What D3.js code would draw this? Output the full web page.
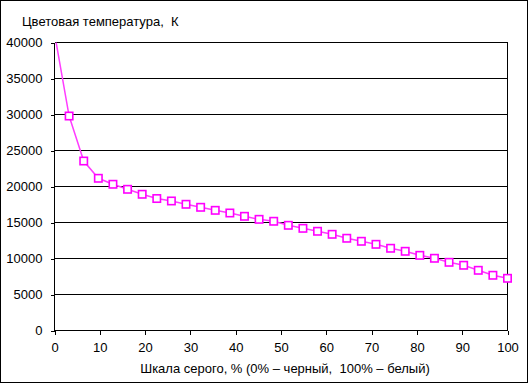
<!DOCTYPE html>
<html>
<head>
<meta charset="utf-8">
<script src="https://cdn.jsdelivr.net/npm/d3@7"></script>
<style>
  html, body { margin: 0; padding: 0; background: #fff; }
  svg { display: block; font-family: "Liberation Sans", Arial, sans-serif; }
</style>
</head>
<body>
<svg id="chart" width="528" height="383"></svg>
<script>
// Gray level (% , 0 = black, 100 = white), 32 steps
const grayLevels = d3.range(32).map(i => i * 100 / 31);
// Colour temperature, K
const colorTemp = [41300, 29790, 23540, 21140, 20310, 19610, 18920, 18330,
  17990, 17530, 17110, 16690, 16320, 15860, 15440, 15170,
  14610, 14190, 13780, 13360, 12810, 12390, 11970, 11420,
  11000, 10440, 10030, 9470, 9060, 8360, 7670, 7250];
const yTicks = [0, 5000, 10000, 15000, 20000, 25000, 30000, 35000, 40000];
const xTicks = [0, 10, 20, 30, 40, 50, 60, 70, 80, 90, 100];
const titleY = "Цветовая температура,  К";
const titleX = "Шкала серого, % (0% – черный,  100% – белый)";

const svg = d3.select("#chart");
const W = 528, H = 383;
const pLeft = 54.5, pRight = 507.5, pTop = 42.5, pBottom = 330.5;

svg.append("rect").attr("x", 0.5).attr("y", 0.5).attr("width", W - 1).attr("height", H - 1)
  .attr("fill", "#fff").attr("stroke", "#000").attr("stroke-width", 1);

const x = d3.scaleLinear().domain([0, 100]).range([pLeft, pRight]);
const y = d3.scaleLinear().domain([0, 40000]).range([pBottom, pTop]);

// gridlines
svg.append("g").selectAll("line").data(yTicks.filter(d => d > 0)).join("line")
  .attr("x1", pLeft).attr("x2", pRight)
  .attr("y1", d => y(d)).attr("y2", d => y(d))
  .attr("stroke", "#000").attr("stroke-width", 1).attr("shape-rendering", "crispEdges");

// right border of plot
svg.append("line").attr("x1", pRight).attr("x2", pRight).attr("y1", pTop).attr("y2", pBottom)
  .attr("stroke", "#000").attr("shape-rendering", "crispEdges");

// axes
const yAxis = d3.axisLeft(y).tickValues(yTicks).tickSize(4).tickPadding(8).tickFormat(d3.format("d"));
const gy = svg.append("g").attr("transform", `translate(${pLeft},0)`).call(yAxis);
const xAxis = d3.axisBottom(x).tickValues(xTicks).tickSize(4).tickPadding(8).tickFormat(d3.format("d"));
const gx = svg.append("g").attr("transform", `translate(0,${pBottom})`).call(xAxis);
[gy, gx].forEach(g => {
  g.select(".domain").attr("d", null);
  g.selectAll(".tick line").attr("stroke", "#000").attr("shape-rendering", "crispEdges");
  g.selectAll(".tick text").attr("fill", "#000").style("font-size", "13px")
    .style("font-family", "'Liberation Sans', Arial, sans-serif");
});
svg.append("line").attr("x1", pLeft).attr("x2", pLeft).attr("y1", pTop).attr("y2", pBottom)
  .attr("stroke", "#000").attr("shape-rendering", "crispEdges");
svg.append("line").attr("x1", pLeft).attr("x2", pRight).attr("y1", pBottom).attr("y2", pBottom)
  .attr("stroke", "#000").attr("shape-rendering", "crispEdges");

// clip
svg.append("clipPath").attr("id", "clip").append("rect")
  .attr("x", pLeft - 6).attr("y", pTop).attr("width", pRight - pLeft + 12).attr("height", pBottom - pTop + 6);

const data = grayLevels.map((g, i) => ({g, t: colorTemp[i]}));
const plot = svg.append("g").attr("clip-path", "url(#clip)");
plot.append("path").datum(data)
  .attr("d", d3.line().x(d => x(d.g)).y(d => y(d.t)))
  .attr("fill", "none").attr("stroke", "#ff3cff").attr("stroke-width", 1.5);

const ms = 7.4;
plot.selectAll("rect.m").data(data.filter(d => d.t <= 40000)).join("rect")
  .attr("class", "m")
  .attr("x", d => x(d.g) - ms / 2).attr("y", d => y(d.t) - ms / 2)
  .attr("width", ms).attr("height", ms)
  .attr("fill", "#fff").attr("stroke", "#ff00ff").attr("stroke-width", 1.6);

// titles
svg.append("text").attr("x", 22).attr("y", 26).text(titleY)
  .style("font-size", "13px").attr("fill", "#000").attr("xml:space", "preserve");
svg.append("text").attr("x", 285).attr("y", 373).attr("text-anchor", "middle").text(titleX)
  .style("font-size", "13px").attr("fill", "#000").attr("xml:space", "preserve");
</script>
</body>
</html>
